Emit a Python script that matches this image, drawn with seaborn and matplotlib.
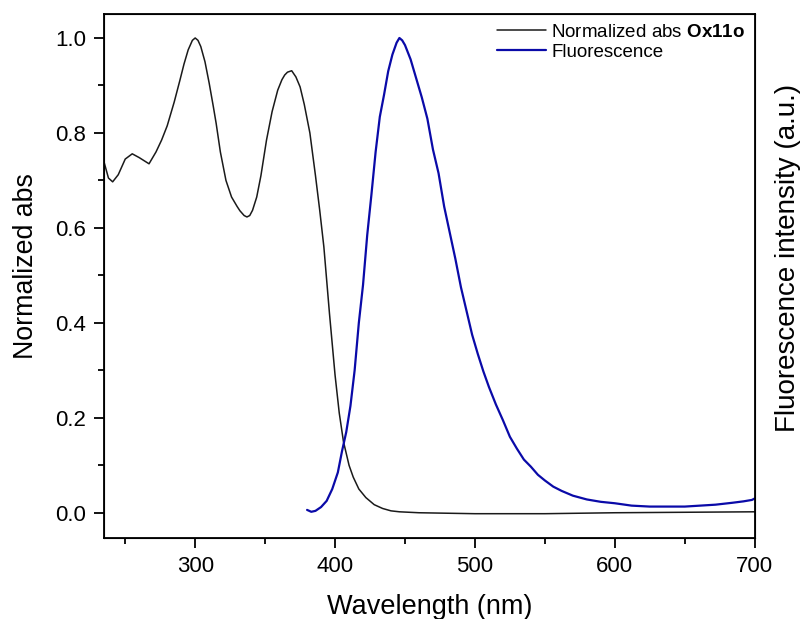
# Absorption / fluorescence overlay for Ox11o
import numpy as np
import pandas as pd
import matplotlib
matplotlib.use("Agg")
import matplotlib.pyplot as plt
import seaborn as sns
from matplotlib.ticker import MultipleLocator

sns.set_style("ticks")
plt.rcParams['font.family'] = ['Liberation Sans', 'DejaVu Sans']
plt.rcParams['mathtext.fontset'] = 'custom'
plt.rcParams['mathtext.rm'] = 'Liberation Sans'
plt.rcParams['mathtext.bf'] = 'Liberation Sans:bold'
plt.rcParams['text.color'] = 'black'
plt.rcParams['axes.labelcolor'] = 'black'
plt.rcParams['xtick.color'] = 'black'
plt.rcParams['ytick.color'] = 'black'
plt.rcParams['axes.edgecolor'] = 'black'

# absorption (normalized)
abs_wl = [235, 238, 241, 245, 250, 255, 260, 267, 272, 276, 280, 285, 289, 292,
          295, 298, 300, 302, 304, 307, 310, 313, 315, 318, 322, 326, 330, 332,
          335, 337, 339, 341, 344, 347, 351, 355, 359, 362, 364, 366, 369, 372,
          375, 378, 382, 386, 389, 392, 396, 400, 403, 406, 410, 413, 417, 422,
          428, 434, 440, 446, 460, 500, 550, 600, 650, 700]
abs_val = [0.737, 0.705, 0.697, 0.712, 0.745, 0.756, 0.748, 0.735, 0.76, 0.785,
           0.815, 0.865, 0.91, 0.945, 0.975, 0.995, 1.0, 0.995, 0.982, 0.95,
           0.905, 0.855, 0.82, 0.76, 0.70, 0.665, 0.645, 0.636, 0.626, 0.623,
           0.626, 0.637, 0.665, 0.71, 0.785, 0.845, 0.89, 0.912, 0.922, 0.928,
           0.931, 0.918, 0.897, 0.86, 0.80, 0.71, 0.638, 0.56, 0.42, 0.29, 0.21,
           0.15, 0.10, 0.075, 0.05, 0.032, 0.017, 0.009, 0.004, 0.002, 0.0,
           -0.002, -0.002, 0.0, 0.001, 0.002]

# fluorescence (normalized)
fl_wl = [380, 383, 386, 390, 394, 398, 402, 405, 408, 411, 414, 417, 420, 423,
         426, 429, 432, 435, 438, 441, 444, 446, 448, 450, 454, 458, 462, 466,
         470, 474, 478, 482, 486, 490, 494, 498, 502, 506, 510, 515, 520, 525,
         530, 535, 540, 545, 550, 556, 562, 570, 580, 590, 600, 612, 625, 637,
         650, 661, 672, 684, 692, 698, 700]
fl_val = [0.006, 0.002, 0.004, 0.012, 0.025, 0.05, 0.085, 0.13, 0.17, 0.225,
          0.30, 0.40, 0.48, 0.585, 0.67, 0.76, 0.834, 0.88, 0.93, 0.965, 0.99,
          1.0, 0.995, 0.985, 0.955, 0.915, 0.875, 0.83, 0.765, 0.715, 0.645,
          0.59, 0.535, 0.475, 0.425, 0.375, 0.335, 0.298, 0.265, 0.228, 0.195,
          0.16, 0.135, 0.112, 0.097, 0.08, 0.068, 0.055, 0.046, 0.036, 0.028,
          0.023, 0.02, 0.015, 0.013, 0.013, 0.013, 0.015, 0.017, 0.021, 0.024,
          0.027, 0.03]

df_abs = pd.DataFrame({'wl': abs_wl, 'y': abs_val})
df_fl = pd.DataFrame({'wl': fl_wl, 'y': fl_val})

fig = plt.figure(figsize=(8.02, 6.19), dpi=100)
ax = fig.add_axes([0.130, 0.131, 0.811, 0.846])

sns.lineplot(data=df_abs, x='wl', y='y', ax=ax, color='#1a1a1a', lw=1.1,
             label=r'Normalized abs $\mathbf{Ox11o}$')
sns.lineplot(data=df_fl, x='wl', y='y', ax=ax, color='#0a0aa8', lw=1.6,
             label='Fluorescence')

ax.set_xlim(235, 700)
ax.set_ylim(-0.053, 1.05)
ax.xaxis.set_major_locator(MultipleLocator(100))
ax.xaxis.set_minor_locator(MultipleLocator(50))
ax.yaxis.set_minor_locator(MultipleLocator(0.1))
ax.set_yticks(np.arange(0, 1.01, 0.2))
ax.set_yticklabels([f'{v:.1f}' for v in np.arange(0, 1.01, 0.2)])
ax.tick_params(which='major', direction='out', length=7, width=1.3,
               labelsize=16, pad=6)
ax.tick_params(which='minor', direction='out', length=4, width=1.3)
for s in ax.spines.values():
    s.set_linewidth(1.3)

ax.set_xlabel('Wavelength (nm)', fontsize=19.5, labelpad=12)
ax.set_ylabel('Normalized abs', fontsize=19.3)
ax.yaxis.set_label_coords(-0.100, 0.519)

ax2 = ax.twinx()
ax2.set_ylim(ax.get_ylim())
ax2.set_yticks([])
ax2.set_ylabel('Fluorescence intensity (a.u.)', fontsize=20)
ax2.yaxis.set_label_coords(1.031, 0.534)

leg = ax.legend(loc='upper right', frameon=False, fontsize=13.5, handlelength=2.6,
                handletextpad=0.3, borderaxespad=0.1, labelspacing=0.15)

fig.savefig('out.png', dpi=100)
